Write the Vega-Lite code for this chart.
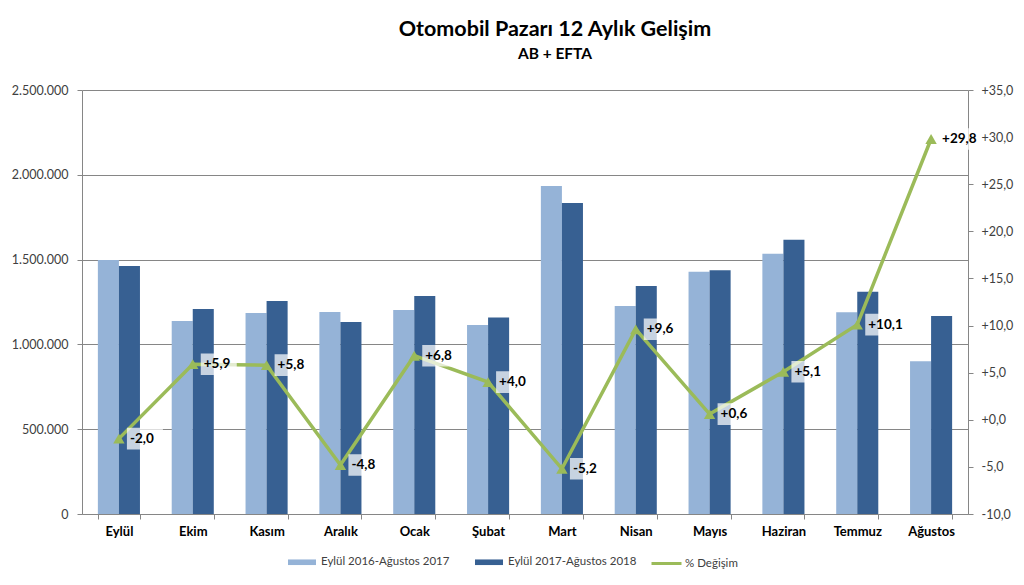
{
  "$schema": "https://vega.github.io/schema/vega-lite/v6.json",
  "width": 886,
  "height": 424,
  "autosize": {"type": "none"},
  "padding": {"left": 82, "top": 90, "right": 56, "bottom": 71},
  "background": "white",
  "title": {
    "text": "Otomobil Pazarı 12 Aylık Gelişim",
    "subtitle": "AB + EFTA",
    "anchor": "middle",
    "frame": "group",
    "dx": 30,
    "offset": 22,
    "fontSize": 21.5,
    "fontWeight": "bold",
    "color": "#000000",
    "subtitleFontSize": 15.5,
    "subtitleFontWeight": "bold",
    "subtitleColor": "#000000",
    "subtitlePadding": 6
  },
  "datasets": {
    "bars": [
      {"month": "Eylül", "series": "Eylül 2016-Ağustos 2017", "value": 1497000},
      {"month": "Eylül", "series": "Eylül 2017-Ağustos 2018", "value": 1462000},
      {"month": "Ekim", "series": "Eylül 2016-Ağustos 2017", "value": 1138000},
      {"month": "Ekim", "series": "Eylül 2017-Ağustos 2018", "value": 1209000},
      {"month": "Kasım", "series": "Eylül 2016-Ağustos 2017", "value": 1185000},
      {"month": "Kasım", "series": "Eylül 2017-Ağustos 2018", "value": 1256000},
      {"month": "Aralık", "series": "Eylül 2016-Ağustos 2017", "value": 1191000},
      {"month": "Aralık", "series": "Eylül 2017-Ağustos 2018", "value": 1132000},
      {"month": "Ocak", "series": "Eylül 2016-Ağustos 2017", "value": 1203000},
      {"month": "Ocak", "series": "Eylül 2017-Ağustos 2018", "value": 1285000},
      {"month": "Şubat", "series": "Eylül 2016-Ağustos 2017", "value": 1114000},
      {"month": "Şubat", "series": "Eylül 2017-Ağustos 2018", "value": 1158000},
      {"month": "Mart", "series": "Eylül 2016-Ağustos 2017", "value": 1934000},
      {"month": "Mart", "series": "Eylül 2017-Ağustos 2018", "value": 1834000},
      {"month": "Nisan", "series": "Eylül 2016-Ağustos 2017", "value": 1226000},
      {"month": "Nisan", "series": "Eylül 2017-Ağustos 2018", "value": 1344000},
      {"month": "Mayıs", "series": "Eylül 2016-Ağustos 2017", "value": 1429000},
      {"month": "Mayıs", "series": "Eylül 2017-Ağustos 2018", "value": 1437000},
      {"month": "Haziran", "series": "Eylül 2016-Ağustos 2017", "value": 1535000},
      {"month": "Haziran", "series": "Eylül 2017-Ağustos 2018", "value": 1617000},
      {"month": "Temmuz", "series": "Eylül 2016-Ağustos 2017", "value": 1189000},
      {"month": "Temmuz", "series": "Eylül 2017-Ağustos 2018", "value": 1311000},
      {"month": "Ağustos", "series": "Eylül 2016-Ağustos 2017", "value": 900000},
      {"month": "Ağustos", "series": "Eylül 2017-Ağustos 2018", "value": 1167000}
    ],
    "pct": [
      {"month": "Eylül", "series": "% Değişim", "pct": -2.0},
      {"month": "Ekim", "series": "% Değişim", "pct": 5.9},
      {"month": "Kasım", "series": "% Değişim", "pct": 5.8},
      {"month": "Aralık", "series": "% Değişim", "pct": -4.8},
      {"month": "Ocak", "series": "% Değişim", "pct": 6.8},
      {"month": "Şubat", "series": "% Değişim", "pct": 4.0},
      {"month": "Mart", "series": "% Değişim", "pct": -5.2},
      {"month": "Nisan", "series": "% Değişim", "pct": 9.6},
      {"month": "Mayıs", "series": "% Değişim", "pct": 0.6},
      {"month": "Haziran", "series": "% Değişim", "pct": 5.1},
      {"month": "Temmuz", "series": "% Değişim", "pct": 10.1},
      {"month": "Ağustos", "series": "% Değişim", "pct": 29.8}
    ]
  },
  "encoding": {
    "x": {
      "field": "month",
      "type": "nominal",
      "sort": ["Eylül", "Ekim", "Kasım", "Aralık", "Ocak", "Şubat", "Mart", "Nisan", "Mayıs", "Haziran", "Temmuz", "Ağustos"],
      "scale": {"paddingInner": 0.43, "paddingOuter": 0.215},
      "axis": {
        "title": null,
        "labelAngle": 0,
        "labelFontWeight": "bold",
        "labelFontSize": 13,
        "labelColor": "#000000",
        "labelPadding": 6,
        "tickBand": "extent",
        "tickSize": 5,
        "grid": false
      }
    }
  },
  "layer": [
    {
      "data": {"name": "bars"},
      "mark": {"type": "bar"},
      "encoding": {
        "xOffset": {"field": "series", "type": "nominal", "scale": {"paddingInner": 0, "paddingOuter": 0}},
        "y": {
          "field": "value",
          "type": "quantitative",
          "scale": {"domain": [0, 2500000], "nice": false},
          "axis": {
            "title": null,
            "values": [0, 500000, 1000000, 1500000, 2000000, 2500000],
            "format": ",d",
            "grid": true,
            "tickSize": 5,
            "labelFontSize": 12.5,
            "labelPadding": 9
          }
        },
        "color": {
          "field": "series",
          "type": "nominal",
          "scale": {"domain": ["Eylül 2016-Ağustos 2017", "Eylül 2017-Ağustos 2018"], "range": ["#95b3d7", "#376092"]},
          "legend": {
            "title": null,
            "orient": "none",
            "legendX": 205,
            "legendY": 457,
            "direction": "horizontal",
            "symbolType": "M-1,-0.2L1,-0.2L1,0.2L-1,0.2Z",
            "symbolSize": 784,
            "labelFontSize": 11.5,
            "labelOffset": 4,
            "columnPadding": 24
          }
        }
      }
    },
    {
      "data": {"name": "pct"},
      "encoding": {
        "y": {
          "field": "pct",
          "type": "quantitative",
          "scale": {"domain": [-10, 35], "nice": false},
          "axis": {
            "title": null,
            "orient": "right",
            "values": [-10, -5, 0, 5, 10, 15, 20, 25, 30, 35],
            "format": "+.1f",
            "grid": false,
            "tickSize": 5,
            "labelFontSize": 12.5,
            "labelPadding": 8
          }
        }
      },
      "layer": [
        {
          "mark": {"type": "line", "strokeWidth": 3.5, "point": {"shape": "triangle-up", "size": 130, "filled": true}},
          "encoding": {
            "color": {
              "field": "series",
              "type": "nominal",
              "scale": {"domain": ["% Değişim"], "range": ["#9bbb59"]},
              "legend": {
                "title": null,
                "orient": "none",
                "legendX": 568,
                "legendY": 457,
                "symbolType": "stroke",
                "symbolStrokeWidth": 3,
                "symbolSize": 900,
                "labelFontSize": 11.5,
                "labelOffset": 2
              }
            }
          }
        },
        {
          "mark": {"type": "point", "shape": "M-1,-0.6L1,-0.6L1,0.6L-1,0.6Z", "size": 1296, "filled": true, "fill": "#ffffff", "opacity": 0.72, "strokeWidth": 0, "xOffset": 26},
          "encoding": {}
        },
        {
          "mark": {"type": "text", "align": "left", "baseline": "middle", "dx": 11, "fontWeight": "bold", "fontSize": 13.5, "color": "#000000"},
          "encoding": {
            "text": {"field": "pct", "type": "quantitative", "format": "+.1f"}
          }
        }
      ]
    }
  ],
  "resolve": {"scale": {"y": "independent", "color": "independent"}},
  "config": {
    "font": "Lato",
    "locale": {"number": {"decimal": ",", "thousands": ".", "grouping": [3], "currency": ["", " TL"], "minus": "-"}},
    "view": {"stroke": null},
    "axis": {
      "domainColor": "#868686",
      "tickColor": "#868686",
      "gridColor": "#868686",
      "gridWidth": 1,
      "labelColor": "#404040",
      "labelFont": "Lato"
    },
    "legend": {"labelColor": "#404040", "labelFont": "Lato"}
  }
}
